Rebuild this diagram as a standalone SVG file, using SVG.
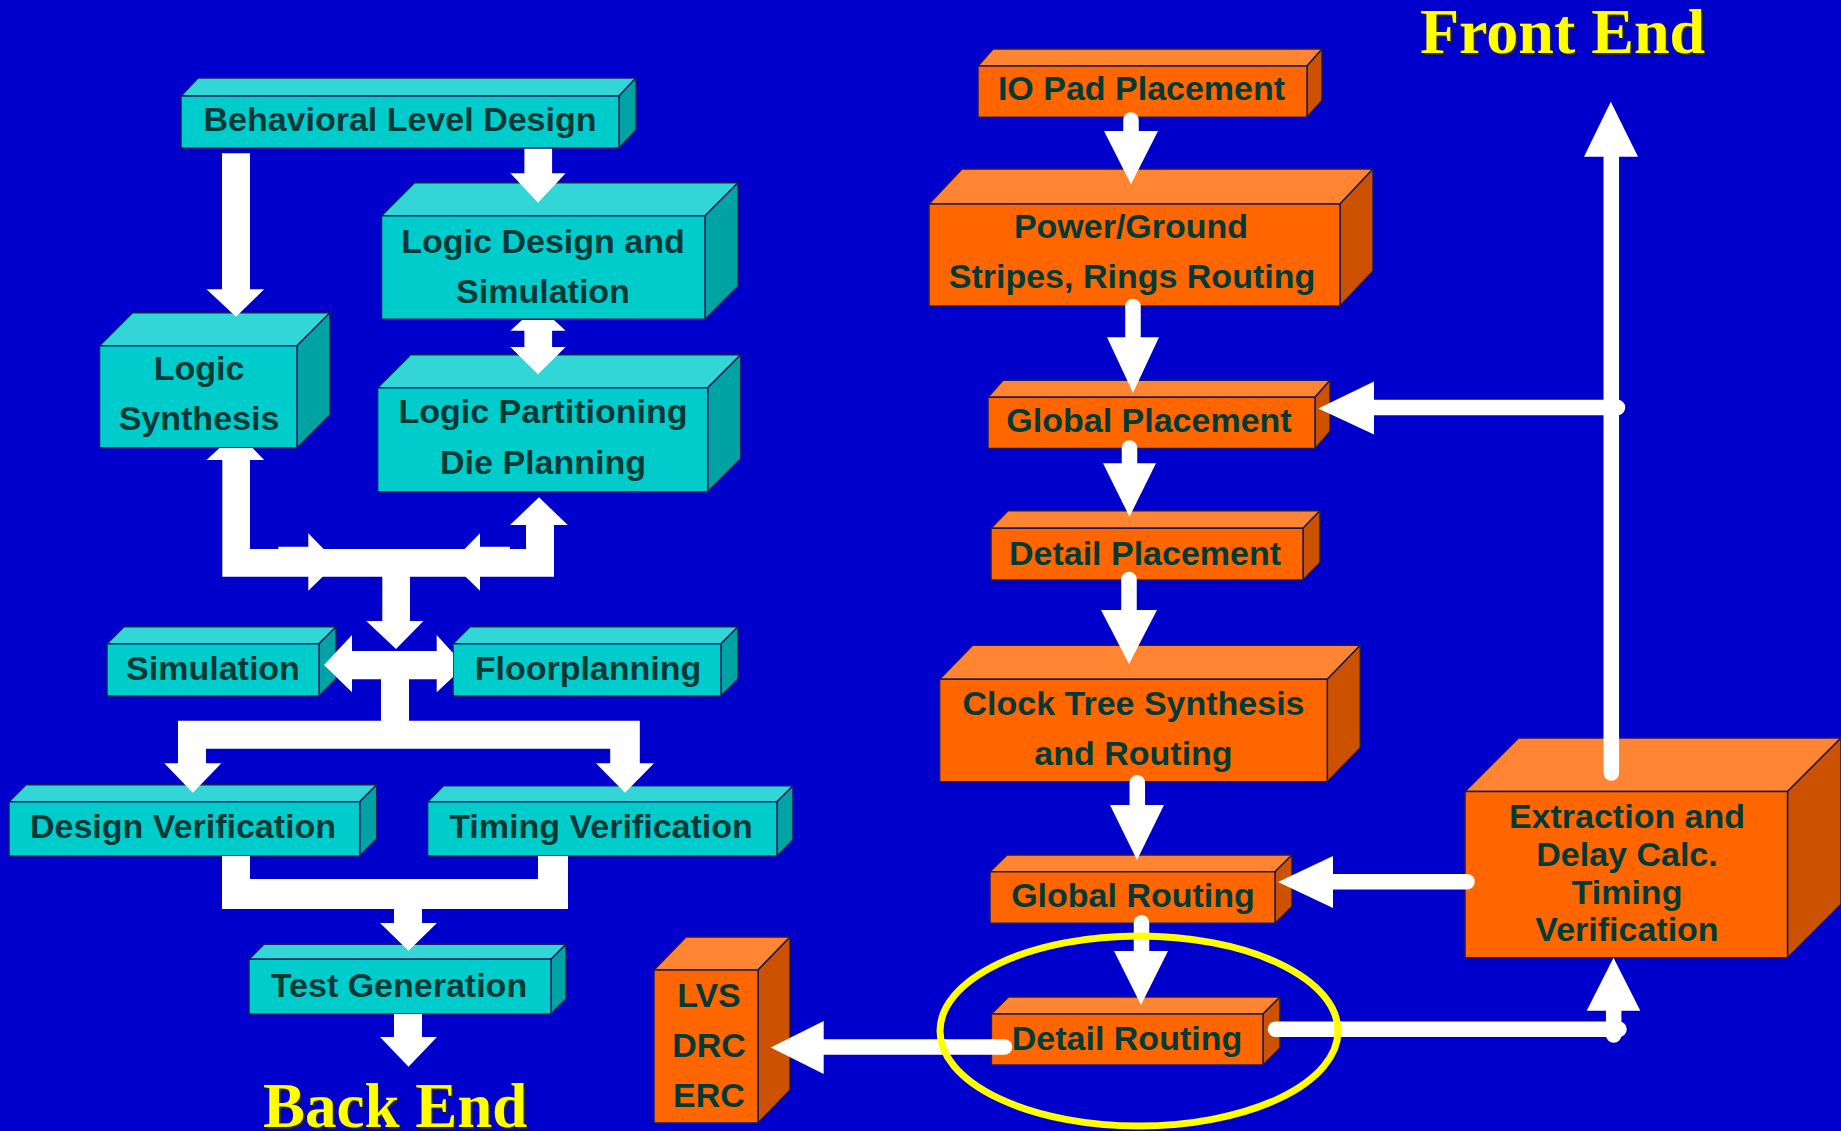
<svg xmlns="http://www.w3.org/2000/svg" width="1841" height="1131" viewBox="0 0 1841 1131">
<style>
.tt{fill:#33D6D6}.tf{fill:#00CCCC}.ts{fill:#00A3A3}
.ot{fill:#FF8533}.of{fill:#FF6600}.os{fill:#CC5200}
.tt,.tf,.ts,.ot,.of,.os{stroke:#1C1C60;stroke-width:1.5;stroke-linejoin:round}
.lbl{font-family:"Liberation Sans",Arial,sans-serif;font-weight:bold;font-size:34px;fill:#033A36;text-anchor:middle}
.ttl{font-family:"Liberation Serif","Times New Roman",serif;font-weight:bold;fill:#FFFF00}
.shd{font-family:"Liberation Serif","Times New Roman",serif;font-weight:bold;fill:#222222}
.w{fill:#FFFFFF}
.sh{stroke:#FFFFFF;stroke-width:15.5;stroke-linecap:round;fill:none}
</style>
<rect width="1841" height="1131" fill="#0000CC"/>

<g id="nodes">
<g id="behavioral">
<polygon class="tt" points="181,96 198,78 636,78 619,96"/><polygon class="ts" points="619,96 636,78 636,130 619,148"/><rect class="tf" x="181" y="96" width="438" height="52"/>
<text class="lbl" x="400" y="131">Behavioral Level Design</text></g>
<g id="logic-design">
<polygon class="tt" points="381.5,215.7 414.5,182.7 738,182.7 705,215.7"/><polygon class="ts" points="705,215.7 738,182.7 738,286.3 705,319.3"/><rect class="tf" x="381.5" y="215.7" width="323.5" height="103.6"/>
<text class="lbl" x="543" y="253">Logic Design and</text><text class="lbl" x="543" y="303">Simulation</text></g>
<g id="logic-synthesis">
<polygon class="tt" points="99.5,345.7 132.5,312.7 330,312.7 297,345.7"/><polygon class="ts" points="297,345.7 330,312.7 330,414.7 297,447.7"/><rect class="tf" x="99.5" y="345.7" width="197.5" height="102"/>
<text class="lbl" x="199" y="380">Logic</text><text class="lbl" x="199" y="430">Synthesis</text></g>
<g id="logic-partitioning">
<polygon class="tt" points="377.6,387.7 410.6,354.7 740.7,354.7 707.7,387.7"/><polygon class="ts" points="707.7,387.7 740.7,354.7 740.7,458.7 707.7,491.7"/><rect class="tf" x="377.6" y="387.7" width="330.1" height="104"/>
<text class="lbl" x="543" y="423">Logic Partitioning</text><text class="lbl" x="543" y="474">Die Planning</text></g>
<g id="simulation">
<polygon class="tt" points="107,643.7 124,626.7 336,626.7 319,643.7"/><polygon class="ts" points="319,643.7 336,626.7 336,679 319,696"/><rect class="tf" x="107" y="643.7" width="212" height="52.3"/>
<text class="lbl" x="213" y="680">Simulation</text></g>
<g id="floorplanning">
<polygon class="tt" points="453,643.7 470,626.7 738,626.7 721,643.7"/><polygon class="ts" points="721,643.7 738,626.7 738,679 721,696"/><rect class="tf" x="453" y="643.7" width="268" height="52.3"/>
<text class="lbl" x="588" y="680">Floorplanning</text></g>
<g id="design-verification">
<polygon class="tt" points="9,801.7 26,784.7 376.7,784.7 359.7,801.7"/><polygon class="ts" points="359.7,801.7 376.7,784.7 376.7,839 359.7,856"/><rect class="tf" x="9" y="801.7" width="350.7" height="54.3"/>
<text class="lbl" x="183" y="838">Design Verification</text></g>
<g id="timing-verification">
<polygon class="tt" points="427.6,801.7 443.6,785.7 793,785.7 777,801.7"/><polygon class="ts" points="777,801.7 793,785.7 793,840 777,856"/><rect class="tf" x="427.6" y="801.7" width="349.4" height="54.3"/>
<text class="lbl" x="601" y="838">Timing Verification</text></g>
<g id="test-generation">
<polygon class="tt" points="249,959.3 264,944.3 566,944.3 551,959.3"/><polygon class="ts" points="551,959.3 566,944.3 566,999 551,1014"/><rect class="tf" x="249" y="959.3" width="302" height="54.7"/>
<text class="lbl" x="399" y="997">Test Generation</text></g>

<g id="io-pad">
<polygon class="ot" points="978,66 993,49 1322,49 1307,66"/><polygon class="os" points="1307,66 1322,49 1322,100.3 1307,117.3"/><rect class="of" x="978" y="66" width="329" height="51.3"/>
<text class="lbl" x="1141.5" y="100">IO Pad Placement</text></g>
<g id="power-ground">
<polygon class="ot" points="929,204 962,169 1373,169 1340,204"/><polygon class="os" points="1340,204 1373,169 1373,271 1340,306"/><rect class="of" x="929" y="204" width="411" height="102"/>
<text class="lbl" x="1131" y="238">Power/Ground</text><text class="lbl" x="1132" y="288">Stripes, Rings Routing</text></g>
<g id="global-placement">
<polygon class="ot" points="988,397.3 1003,380.3 1330,380.3 1315,397.3"/><polygon class="os" points="1315,397.3 1330,380.3 1330,431.5 1315,448.5"/><rect class="of" x="988" y="397.3" width="327" height="51.2"/>
<text class="lbl" x="1149" y="432">Global Placement</text></g>
<g id="detail-placement">
<polygon class="ot" points="991,528.3 1008,510.8 1320,510.8 1303,528.3"/><polygon class="os" points="1303,528.3 1320,510.8 1320,562.5 1303,580"/><rect class="of" x="991" y="528.3" width="312" height="51.7"/>
<text class="lbl" x="1145" y="565">Detail Placement</text></g>
<g id="clock-tree">
<polygon class="ot" points="939.6,679.3 972.6,645.3 1360.3,645.3 1327.3,679.3"/><polygon class="os" points="1327.3,679.3 1360.3,645.3 1360.3,747.7 1327.3,781.7"/><rect class="of" x="939.6" y="679.3" width="387.7" height="102.4"/>
<text class="lbl" x="1133.5" y="715">Clock Tree Synthesis</text><text class="lbl" x="1133.5" y="765">and Routing</text></g>
<g id="global-routing">
<polygon class="ot" points="990,871.7 1007,855 1292,855 1275,871.7"/><polygon class="os" points="1275,871.7 1292,855 1292,906.6 1275,923.3"/><rect class="of" x="990" y="871.7" width="285" height="51.6"/>
<text class="lbl" x="1133" y="907">Global Routing</text></g>
<g id="detail-routing">
<polygon class="ot" points="991.4,1014 1008.4,997 1280,997 1263,1014"/><polygon class="os" points="1263,1014 1280,997 1280,1048 1263,1065"/><rect class="of" x="991.4" y="1014" width="271.6" height="51"/>
<text class="lbl" x="1127" y="1050">Detail Routing</text></g>
<g id="lvs-drc-erc">
<polygon class="ot" points="654,970 686,937 790,937 758,970"/><polygon class="os" points="758,970 790,937 790,1090 758,1123"/><rect class="of" x="654" y="970" width="104" height="153"/>
<text class="lbl" x="709" y="1007">LVS</text><text class="lbl" x="709" y="1057">DRC</text><text class="lbl" x="709" y="1107">ERC</text></g>
<g id="extraction">
<polygon class="ot" points="1465,791.5 1518.5,738 1841,738 1787.5,791.5"/><polygon class="os" points="1787.5,791.5 1841,738 1841,904.2 1787.5,957.7"/><rect class="of" x="1465" y="791.5" width="322.5" height="166.2"/>
<text class="lbl" x="1627" y="828">Extraction and</text><text class="lbl" x="1627" y="866">Delay Calc.</text><text class="lbl" x="1627" y="903.5">Timing</text><text class="lbl" x="1627" y="941">Verification</text></g>
</g>

<g id="connectors">
<path class="w" d="M222,153.3 H250 V289.3 H264.2 L236,316.7 L206.5,289.3 H222 Z"/>
<path class="w" d="M524.4,148.7 H552.1 V173.3 H565.6 L538,202.7 L510.4,173.3 H524.4 Z"/>
<path class="w" d="M522,320 H554 L565.6,330.7 H552.1 V347 H565.6 L538,374.3 L510.4,347 H524.4 V330.7 H510.4 Z"/>
<path class="w" d="M219.5,448 H252.5 L264.2,460 H250 V549 H526 V525 H510 L539,497.3 L567.7,525 H554 V576.7 H410 V621 H423.5 L396,649 L366.3,621 H382.3 V576.7 H222.3 V460 H206.5 Z"/>
<path class="w" d="M308.3,533.3 V590.7 L337,562.8 Z M278.3,546.7 H308.3 V549.5 H278.3 Z M480,533.3 V590.7 L451.3,562.8 Z M480,546.7 H510 V549.5 H480 Z"/>
<path class="w" d="M324,665 L352,635 V651 H436.7 V635 L453,653 V677 L436.7,692.3 V679.3 H352 V692.3 Z"/>
<path class="w" d="M381,679 H409 V720.7 H639.8 V763.3 H654 L625,792.7 L596,763.3 H610.2 V748.7 H206 V763.3 H221.4 L192.8,792.7 L164.3,763.3 H178 V720.7 H381 Z"/>
<path class="w" d="M222,856 H250 V879 H538 V856 H568 V909 H422 V923 H437 L408.5,950.7 L380,923 H394 V909 H222 Z"/>
<path class="w" d="M394,1014 H422 V1037 H437 L408.5,1066.7 L380,1037 H394 Z"/>

<line class="sh" x1="1131" y1="120" x2="1131" y2="132"/><polygon class="w" points="1104,131 1158,131 1131,184.3"/>
<line class="sh" x1="1133" y1="306.5" x2="1133" y2="338"/><polygon class="w" points="1107,337.3 1159,337.3 1133,392.7"/>
<line class="sh" x1="1129.5" y1="448" x2="1129.5" y2="464"/><polygon class="w" points="1103,463.3 1156,463.3 1129.5,516.7"/>
<line class="sh" x1="1129" y1="579.5" x2="1129" y2="611"/><polygon class="w" points="1101,610 1157,610 1129,664"/>
<line class="sh" x1="1137.3" y1="782.7" x2="1137.3" y2="806"/><polygon class="w" points="1110,805 1164,805 1137,860"/>
<line class="sh" x1="1141.5" y1="922.7" x2="1141.5" y2="952"/><polygon class="w" points="1114,951 1168,951 1141,1005"/>
<line class="sh" x1="1004.5" y1="1047" x2="822" y2="1047"/><polygon class="w" points="823.7,1021 823.7,1074 770.7,1047.5"/>
<line class="sh" x1="1275.5" y1="1029.2" x2="1619" y2="1029.2"/><line class="sh" x1="1613.7" y1="1035" x2="1613.7" y2="1009"/><polygon class="w" points="1586.7,1010.7 1640.3,1010.7 1613.5,957.7"/>
<line class="sh" x1="1467" y1="881.7" x2="1332" y2="881.7"/><polygon class="w" points="1333,856 1333,908 1278,882"/>
<line class="sh" x1="1611.3" y1="773" x2="1611.3" y2="155"/><polygon class="w" points="1584,156.7 1638,156.7 1610.8,101.7"/>
<line class="sh" x1="1617.5" y1="407.5" x2="1372" y2="407.5"/><polygon class="w" points="1374,381.5 1374,434.5 1318.3,408.5"/>
</g>

<ellipse cx="1139" cy="1031" rx="199" ry="95" fill="none" stroke="#FFFF00" stroke-width="7"/>

<text class="shd" x="1422" y="55" font-size="64">Front End</text>
<text class="ttl" x="1420" y="53" font-size="64">Front End</text>
<text class="shd" x="265" y="1129" font-size="63">Back End</text>
<text class="ttl" x="263" y="1127" font-size="63">Back End</text>
</svg>
